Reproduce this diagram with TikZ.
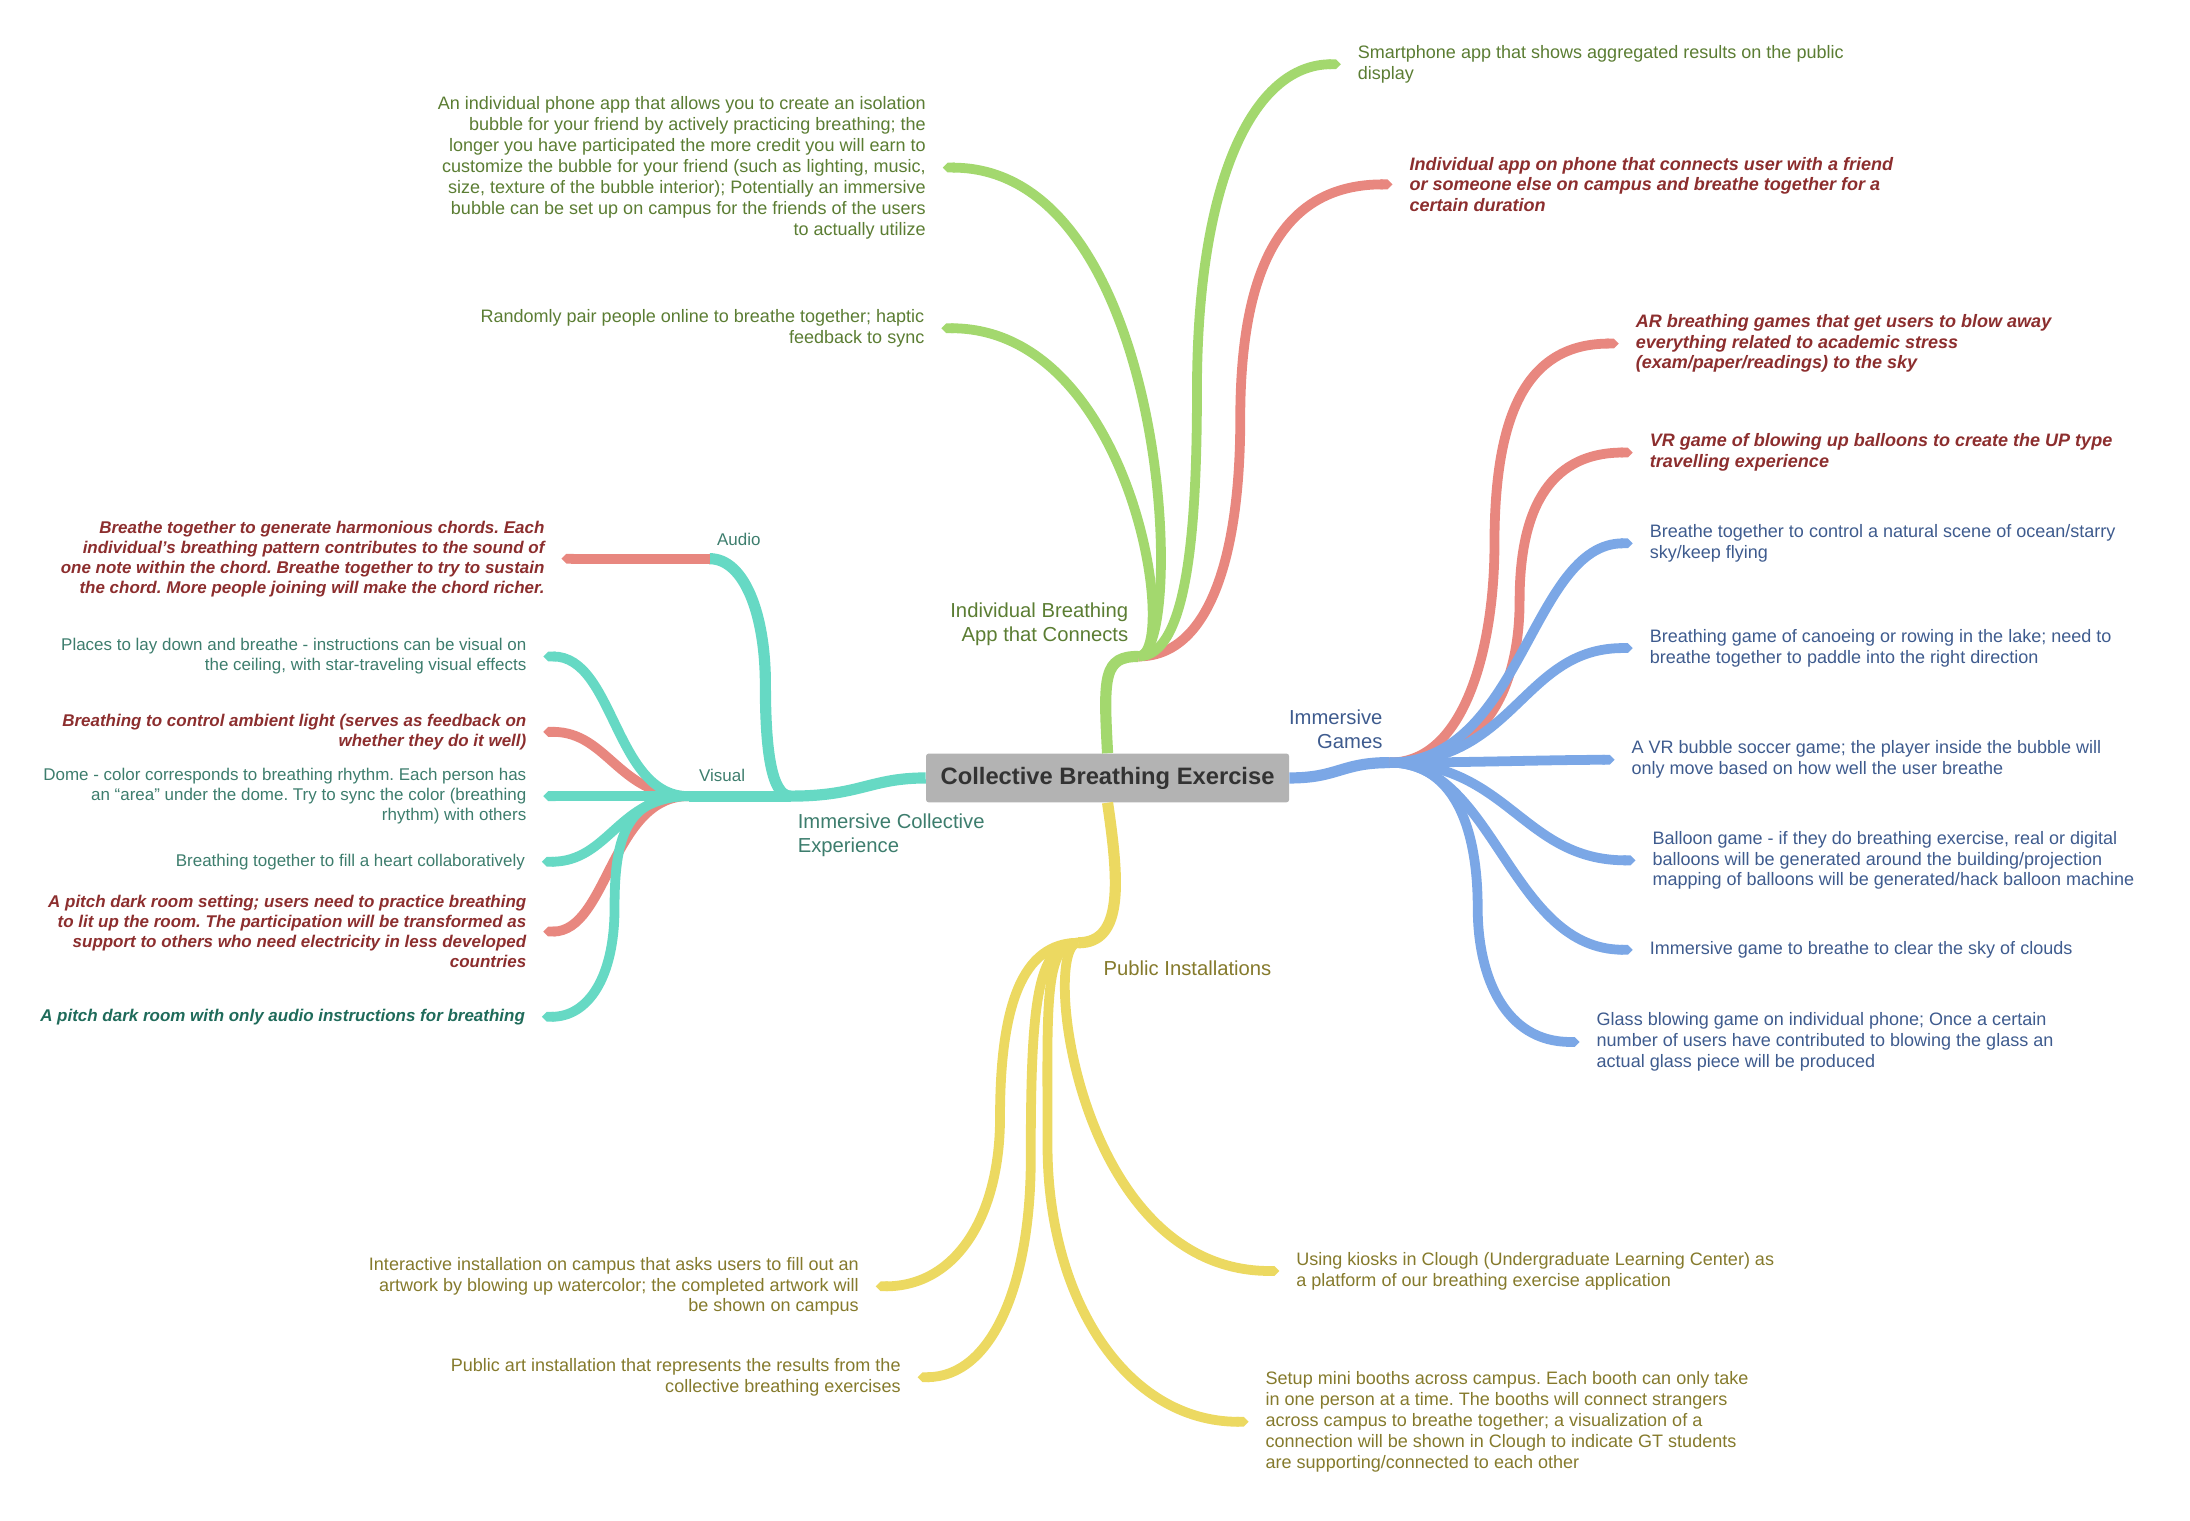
\documentclass[tikz,border=0pt]{standalone}
\usepackage{fontspec}
\setmainfont{Liberation Sans}
\usetikzlibrary{arrows.meta}

\definecolor{lineG}{HTML}{A3D86E}
\definecolor{lineR}{HTML}{E8877F}
\definecolor{lineT}{HTML}{66D9C4}
\definecolor{lineB}{HTML}{7BA7E6}
\definecolor{lineY}{HTML}{ECD961}
\definecolor{inkG}{HTML}{5B7D33}
\definecolor{inkR}{HTML}{8C2E2E}
\definecolor{inkT}{HTML}{3D7D6D}
\definecolor{inkTD}{HTML}{1F6B5A}
\definecolor{inkB}{HTML}{3E5B8E}
\definecolor{inkY}{HTML}{857A2C}
\definecolor{rootfill}{HTML}{B3B3B3}
\definecolor{rootink}{HTML}{333333}

\frenchspacing

\begin{document}
\begin{tikzpicture}[x=1pt, y=-1pt,
    stem/.style={line width=8pt},
    twig/.style={line width=7pt, -{Triangle Cap}, shorten >=12pt},
    leafR/.style={anchor=west, align=left, inner sep=0pt, yshift=-2pt, font=\fontsize{12.9}{15}\selectfont},
    leafL/.style={anchor=east, align=right, inner sep=0pt, yshift=-2pt, font=\fontsize{12.9}{15}\selectfont},
    sm/.style={font=\fontsize{12.15}{14.3}\selectfont},
    hot/.style={text=inkR, font=\fontsize{12.9}{14.7}\selectfont\bfseries\itshape},
    hotsm/.style={text=inkR, font=\fontsize{12.15}{14.3}\selectfont\bfseries\itshape},
    topic/.style={inner sep=0pt, yshift=-2pt, font=\fontsize{14.5}{17.5}\selectfont}]

    \useasboundingbox (0,0) rectangle (1568,1089);

    % Central topic
    \node[fill=rootfill, text=rootink, rounded corners=2pt, minimum width=260pt, minimum height=35pt,
          font=\fontsize{17}{20}\selectfont\bfseries] (R) at (793,557) {Collective Breathing Exercise};

    % Junctions of the main branches
    \coordinate (G) at (815,470);
    \coordinate (T) at (566,570);
    \coordinate (A) at (508,400);
    \coordinate (V) at (493,570);
    \coordinate (B) at (995,546);
    \coordinate (Y) at (772,675);

    % Bends of the long twigs
    \coordinate (Am) at (548,490);
    \coordinate (G1m) at (857,280);
    \coordinate (G2m) at (888,300);
    \coordinate (V6m) at (440,650);
    \coordinate (B1m) at (1070,390);
    \coordinate (B2m) at (1088,430);
    \coordinate (B8m) at (1058,650);
    \coordinate (Y1m) at (716,800);
    \coordinate (Y2m) at (738,830);
    \coordinate (Y4m) at (750,820);

    % Branch labels
    \node[topic, anchor=east, align=right, text=inkG] at (808,445) {Individual Breathing\\App that Connects};
    \node[topic, anchor=west, align=left, text=inkT] at (571,596) {Immersive Collective\\Experience};
    \node[topic, anchor=east, align=right, text=inkB] at (990,520) {Immersive\\Games};
    \node[topic, anchor=west, text=inkY] at (790,691) {Public Installations};
    \node[leafR, sm, anchor=center, text=inkT] at (529,384) {Audio};
    \node[leafR, sm, anchor=center, text=inkT] at (517,553) {Visual};

    % Individual breathing app
    \node[leafR, text=inkG] (G1) at (972,44) {Smartphone app that shows aggregated results on the public\\display};
    \node[leafR, hot] (G2) at (1009,130) {Individual app on phone that connects user with a friend\\or someone else on campus and breathe together for a\\certain duration};
    \node[leafL, text=inkG] (G3) at (663,118) {An individual phone app that allows you to create an isolation\\bubble for your friend by actively practicing breathing; the\\longer you have participated the more credit you will earn to\\customize the bubble for your friend (such as lighting, music,\\size, texture of the bubble interior); Potentially an immersive\\bubble can be set up on campus for the friends of the users\\to actually utilize};
    \node[leafL, text=inkG] (G4) at (662,233) {Randomly pair people online to breathe together; haptic\\feedback to sync};

    % Immersive collective experience
    \node[leafL, hotsm] (A1) at (390,398) {Breathe together to generate harmonious chords. Each\\individual’s breathing pattern contributes to the sound of\\one note within the chord. Breathe together to try to sustain\\the chord. More people joining will make the chord richer.};
    \node[leafL, sm, text=inkT] (V1) at (377,468) {Places to lay down and breathe - instructions can be visual on\\the ceiling, with star-traveling visual effects};
    \node[leafL, hotsm] (V2) at (377,522) {Breathing to control ambient light (serves as feedback on\\whether they do it well)};
    \node[leafL, sm, text=inkT] (V3) at (377,568) {Dome - color corresponds to breathing rhythm. Each person has\\an “area” under the dome. Try to sync the color (breathing\\rhythm) with others};
    \node[leafL, sm, text=inkT] (V4) at (376,615) {Breathing together to fill a heart collaboratively};
    \node[leafL, hotsm] (V5) at (377,665) {A pitch dark room setting; users need to practice breathing\\to lit up the room. The participation will be transformed as\\support to others who need electricity in less developed\\countries};
    \node[leafL, hotsm, text=inkTD] (V6) at (376,726) {A pitch dark room with only audio instructions for breathing};

    % Immersive games
    \node[leafR, hot] (B1) at (1171,244) {AR breathing games that get users to blow away\\everything related to academic stress\\(exam/paper/readings) to the sky};
    \node[leafR, hot] (B2) at (1181,322) {VR game of blowing up balloons to create the UP type\\travelling experience};
    \node[leafR, text=inkB] (B3) at (1181,387) {Breathe together to control a natural scene of ocean/starry\\sky/keep flying};
    \node[leafR, text=inkB] (B4) at (1181,462) {Breathing game of canoeing or rowing in the lake; need to\\breathe together to paddle into the right direction};
    \node[leafR, text=inkB] (B5) at (1168,542) {A VR bubble soccer game; the player inside the bubble will\\only move based on how well the user breathe};
    \node[leafR, text=inkB] (B6) at (1183,614) {Balloon game - if they do breathing exercise, real or digital\\balloons will be generated around the building/projection\\mapping of balloons will be generated/hack balloon machine};
    \node[leafR, text=inkB] (B7) at (1181,678) {Immersive game to breathe to clear the sky of clouds};
    \node[leafR, text=inkB] (B8) at (1143,744) {Glass blowing game on individual phone; Once a certain\\number of users have contributed to blowing the glass an\\actual glass piece will be produced};

    % Public installations
    \node[leafL, text=inkY] (Y1) at (615,919) {Interactive installation on campus that asks users to fill out an\\artwork by blowing up watercolor; the completed artwork will\\be shown on campus};
    \node[leafL, text=inkY] (Y2) at (645,984) {Public art installation that represents the results from the\\collective breathing exercises};
    \node[leafR, text=inkY] (Y3) at (928,908) {Using kiosks in Clough (Undergraduate Learning Center) as\\a platform of our breathing exercise application};
    \node[leafR, text=inkY] (Y4) at (906,1016) {Setup mini booths across campus. Each booth can only take\\in one person at a time. The booths will connect strangers\\across campus to breathe together; a visualization of a\\connection will be shown in Clough to indicate GT students\\are supporting/connected to each other};

    % Stems from the central topic
    \draw[stem, lineG] (R.north) .. controls +(-3,-55) and +(-25,0) .. (G);
    \draw[stem, lineT] (R.west) .. controls +(-40,0) and +(50,0) .. (T);
    \draw[stem, lineB] (R.east) .. controls +(35,0) and +(-35,0) .. (B);
    \draw[stem, lineY] (R.south) .. controls +(8,55) and +(33,0) .. (Y);

    % Green twigs (red ones first, they lie underneath)
    \draw[twig, lineR] (G) .. controls +(50,0) and +(0,100) .. (G2m) .. controls +(0,-110) and +(-90,0) .. (G2.west);
    \draw[twig, lineG] (G) .. controls +(35,0) and +(0,100) .. (G1m) .. controls +(0,-150) and +(-75,0) .. (G1.west);
    \draw[twig, lineG] (G) .. controls +(35,0) and +(175,0) .. (G3.east);
    \draw[twig, lineG] (G) .. controls +(30,0) and +(150,0) .. (G4.east);

    % Teal twigs
    \draw[stem, lineT] (T) .. controls +(-15,0) and +(0,40) .. (Am) .. controls +(0,-50) and +(25,0) .. (A);
    \draw[stem, lineT] (T) -- (V);
    \draw[twig, lineR] (A) -- (A1.east);
    \draw[twig, lineR] (V) .. controls +(-50,0) and +(58,0) .. (V2.east);
    \draw[twig, lineR] (V) .. controls +(-55,0) and +(58,0) .. (V5.east);
    \draw[twig, lineT] (V) .. controls +(-53,0) and +(63,0) .. (V1.east);
    \draw[twig, lineT] (V) -- (V3.east);
    \draw[twig, lineT] (V) .. controls +(-50,0) and +(60,0) .. (V4.east);
    \draw[twig, lineT] (V) .. controls +(-45,0) and +(0,-50) .. (V6m) .. controls +(0,50) and +(45,0) .. (V6.east);

    % Blue twigs
    \draw[twig, lineR] (B) .. controls +(55,0) and +(0,70) .. (B1m) .. controls +(0,-90) and +(-80,0) .. (B1.west);
    \draw[twig, lineR] (B) .. controls +(70,0) and +(0,60) .. (B2m) .. controls +(0,-60) and +(-75,0) .. (B2.west);
    \draw[twig, lineB] (B) .. controls +(95,0) and +(-85,0) .. (B3.west);
    \draw[twig, lineB] (B) .. controls +(90,0) and +(-91,0) .. (B4.west);
    \draw[twig, lineB] (B) .. controls +(60,0) and +(-60,0) .. (B5.west);
    \draw[twig, lineB] (B) .. controls +(85,0) and +(-93,0) .. (B6.west);
    \draw[twig, lineB] (B) .. controls +(75,0) and +(-100,0) .. (B7.west);
    \draw[twig, lineB] (B) .. controls +(50,0) and +(0,-50) .. (B8m) .. controls +(0,50) and +(-65,0) .. (B8.west);

    % Yellow twigs
    \draw[twig, lineY] (Y) .. controls +(-40,0) and +(0,-80) .. (Y1m) .. controls +(0,70) and +(70,0) .. (Y1.east);
    \draw[twig, lineY] (Y) .. controls +(-30,0) and +(0,-110) .. (Y2m) .. controls +(0,90) and +(65,0) .. (Y2.east);
    \draw[twig, lineY] (Y) .. controls +(-27,0) and +(-158,0) .. (Y3.west);
    \draw[twig, lineY] (Y) .. controls +(-25,0) and +(0,-100) .. (Y4m) .. controls +(0,110) and +(-100,0) .. (Y4.west);

\end{tikzpicture}
\end{document}
